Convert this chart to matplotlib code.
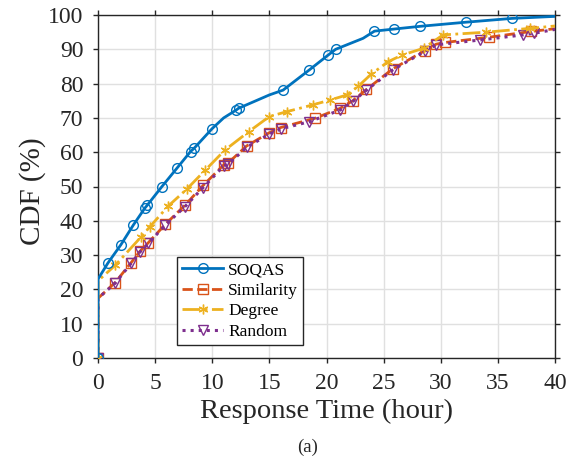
import matplotlib
matplotlib.use("Agg")
import matplotlib.pyplot as plt

plt.rcParams['font.family'] = ['Liberation Serif', 'DejaVu Serif']
plt.rcParams['mathtext.fontset'] = 'stix'

# ---- data ----
soqas_x = [0, 0, 0.87, 2, 3.1, 4.1, 4.3, 5.6, 6.9, 8.1, 8.4, 10, 11, 12.1, 12.3, 15, 16.2, 18.5, 20.1, 20.8, 23.2, 24.2, 25.9, 28.2, 32.2, 36.2, 40]
soqas_y = [0, 23, 27.7, 33, 38.8, 43.7, 44.5, 50, 55.3, 60.2, 61.1, 66.9, 70, 72.3, 72.8, 76.7, 78.1, 84, 88.2, 90, 93.2, 95.3, 95.9, 96.7, 97.9, 99, 99.6]
soqas_mk = [0, 2, 3, 4, 5, 6, 7, 8, 9, 10, 11, 13, 14, 16, 17, 18, 19, 21, 22, 23, 24, 25]

sim_x = [0, 0, 1.5, 2.9, 3.7, 4.4, 5.9, 7.6, 9.2, 11, 11.4, 13, 15, 16, 19, 21.2, 22.3, 23.5, 25.8, 28.6, 29.6, 30.4, 34.2, 37.9, 40]
sim_y = [0, 17.4, 22, 27.8, 31.2, 33.6, 39, 44.5, 50.3, 56.3, 56.9, 61.8, 65.7, 67.2, 69.9, 72.8, 75, 78.3, 84.3, 89.6, 91.5, 92, 93.5, 95.2, 96]
sim_mk = [0] + list(range(2, 24))

deg_x = [0, 0, 1.5, 3.8, 4.55, 6.15, 7.76, 9.4, 11.1, 13.2, 15.0, 16.5, 18.8, 20.3, 21.8, 22.8, 23.9, 25.4, 26.6, 28.5, 30.2, 34, 37.8, 40]
deg_y = [0, 22.5, 27, 35.4, 38.3, 44.3, 49.2, 54.8, 60.6, 66, 70.4, 71.8, 73.8, 75.2, 76.7, 79.3, 82.7, 86.4, 88.3, 90.3, 94.2, 95, 96.1, 96.8]
deg_mk = [0] + list(range(2, 23))

rnd_x = [0, 0, 1.5, 2.9, 3.7, 4.4, 5.9, 7.6, 9.2, 11, 11.4, 13, 15, 16, 18.5, 21.2, 22.3, 23.5, 25.8, 28.6, 29.6, 33.4, 37.2, 38.2, 40]
rnd_y = [0, 17.4, 21.8, 27.6, 31, 33.4, 38.8, 44.1, 49.7, 56, 56.5, 61.4, 65.3, 66.8, 68.9, 72.3, 74.8, 78.1, 84, 89.4, 91.3, 92.7, 94.2, 94.7, 95.8]
rnd_mk = [0] + list(range(2, 24))

labels = ['SOQAS', 'Similarity', 'Degree', 'Random']
colors = ['#0072BD', '#D95319', '#EDB120', '#7E2F8E']
xticks = [0, 5, 10, 15, 20, 25, 30, 35, 40]
yticks = [0, 10, 20, 30, 40, 50, 60, 70, 80, 90, 100]

W, H = 581, 470
fig = plt.figure(figsize=(W / 100, H / 100), dpi=100)
ax = fig.add_axes([98 / W, 1 - 358 / H, 457 / W, 343 / H])

ax.plot(soqas_x, soqas_y, '-', color=colors[0], lw=2, marker='o', ms=7,
        mfc='none', mew=1, markevery=soqas_mk, label=labels[0], zorder=5)
ax.plot(sim_x, sim_y, '--', color=colors[1], lw=2, marker='s', ms=6.5,
        mfc='none', mew=1, markevery=sim_mk, label=labels[1], zorder=3)
ax.plot(deg_x, deg_y, '-.', color=colors[2], lw=2, marker=(6, 2, 0), ms=7,
        mew=1, markevery=deg_mk, label=labels[2], zorder=4)
ax.plot(rnd_x, rnd_y, ':', color=colors[3], lw=2.2, marker='v', ms=7,
        mfc='none', mew=1, markevery=rnd_mk, label=labels[3], zorder=3)

ax.set_xlim(0, 40)
ax.set_ylim(0, 100)
ax.set_xticks(xticks)
ax.set_yticks(yticks)
ax.tick_params(direction='out', top=True, right=True, labelsize=17,
               length=3.6, width=1, pad=7, colors='#262626')
ax.grid(True, color='#e0e0e0', lw=1)
ax.set_axisbelow(True)
for s in ax.spines.values():
    s.set_linewidth(1)
    s.set_color('#262626')

ax.set_xlabel('Response Time (hour)', fontsize=20.5, labelpad=3.5, color='#262626')
ax.set_ylabel('CDF (%)', fontsize=21, color='#262626')
ax.yaxis.set_label_coords(-0.113, 0.485)

leg = ax.legend(loc='upper left', bbox_to_anchor=(0.173, 0.2945), fontsize=12.5,
                handlelength=2.35, handletextpad=0.3, borderpad=0.3,
                labelspacing=0.25, fancybox=False, framealpha=1,
                edgecolor='#262626', borderaxespad=0)
leg.get_frame().set_linewidth(1)

fig.text(308 / W, 1 - 447 / H, '(a)', ha='center', va='center', fontsize=13.5,
         color='#262626')

fig.savefig('out.png', dpi=100)
